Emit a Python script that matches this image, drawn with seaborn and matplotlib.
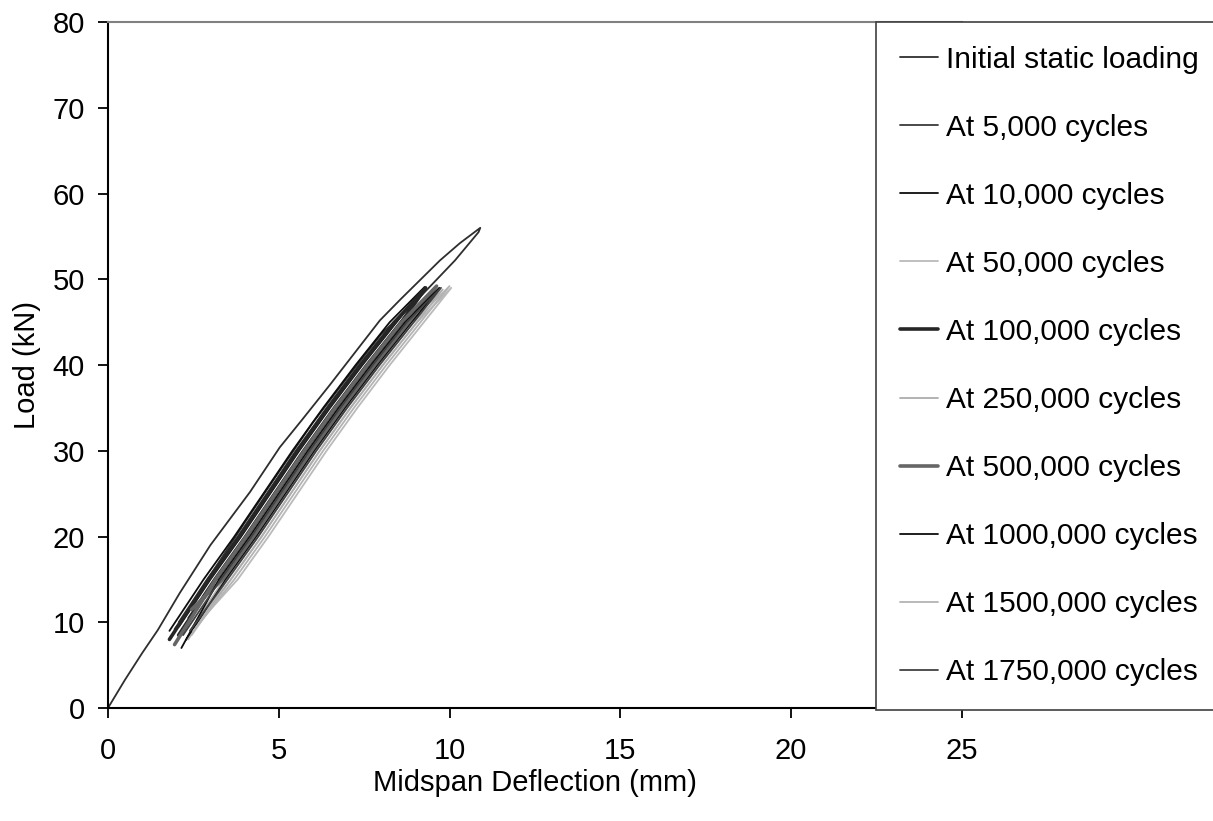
import matplotlib
matplotlib.use("Agg")
import matplotlib.pyplot as plt
import seaborn as sns
import pandas as pd

# ---------------- data ----------------
labels = ["Initial static loading", "At 5,000 cycles", "At 10,000 cycles",
          "At 50,000 cycles", "At 100,000 cycles", "At 250,000 cycles",
          "At 500,000 cycles", "At 1000,000 cycles", "At 1500,000 cycles",
          "At 1750,000 cycles"]

# Initial static loading (loading branch then unloading branch)
init_x = [0.0, 0.5, 1.0, 1.46, 2.1, 3.0, 4.16, 5.03, 5.68, 6.5, 7.96, 8.55, 9.72, 10.3, 10.9,
          10.85, 10.16, 9.2, 8.0, 7.0, 6.0, 5.0, 4.0, 3.0, 2.3, 1.95]
init_y = [0.0, 3.3, 6.4, 9.1, 13.4, 19.0, 25.2, 30.4, 33.6, 37.7, 45.2, 47.6, 52.2, 54.2, 56.0,
          55.5, 52.2, 48.2, 43.6, 38.5, 33.3, 27.5, 21.6, 15.5, 11.2, 9.2]

# Cyclic loops: loading branch up, unloading branch down
c5k_x = [2.07, 2.90, 3.80, 4.65, 5.50, 6.40, 7.35, 8.35, 9.30, 8.55, 7.55, 6.60, 5.70, 4.85, 4.00, 3.10, 2.35]
c5k_y = [10.0, 15, 20, 25, 30, 35, 40, 45, 48.8, 45, 40, 35, 30, 25, 20, 15, 10.5]

c10k_x = [1.80, 2.80, 3.70, 4.55, 5.40, 6.30, 7.25, 8.25, 9.27, 8.45, 7.45, 6.50, 5.60, 4.75, 3.90, 3.00, 2.08]
c10k_y = [9.0, 15, 20, 25, 30, 35, 40, 45, 49.1, 45, 40, 35, 30, 25, 20, 15, 9.5]

c50k_x = [2.45, 3.60, 4.50, 5.35, 6.20, 7.10, 8.05, 9.05, 10.05, 9.25, 8.25, 7.30, 6.40, 5.55, 4.70, 3.80, 2.55]
c50k_y = [8.5, 15, 20, 25, 30, 35, 40, 45, 49.0, 45, 40, 35, 30, 25, 20, 15, 9.5]

c100k_x = [1.80, 2.95, 3.85, 4.70, 5.55, 6.45, 7.40, 8.40, 9.30, 8.60, 7.60, 6.65, 5.75, 4.90, 4.05, 3.15, 2.07]
c100k_y = [8.0, 15, 20, 25, 30, 35, 40, 45, 49.0, 45, 40, 35, 30, 25, 20, 15, 8.5]

c250k_x = [2.40, 3.40, 4.30, 5.15, 6.00, 6.90, 7.85, 8.85, 9.80, 9.05, 8.05, 7.10, 6.20, 5.35, 4.50, 3.60, 2.55]
c250k_y = [9.0, 15, 20, 25, 30, 35, 40, 45, 48.8, 45, 40, 35, 30, 25, 20, 15, 9.5]

c500k_x = [1.95, 3.15, 4.05, 4.90, 5.75, 6.65, 7.60, 8.60, 9.62, 8.80, 7.80, 6.85, 5.95, 5.10, 4.25, 3.35, 2.45]
c500k_y = [7.4, 15, 20, 25, 30, 35, 40, 45, 49.2, 45, 40, 35, 30, 25, 20, 15, 11.5]

c1000k_x = [2.15, 3.25, 4.15, 5.00, 5.85, 6.75, 7.70, 8.70, 9.70, 8.90, 7.90, 6.95, 6.05, 5.20, 4.35, 3.45, 2.30]
c1000k_y = [7.0, 15, 20, 25, 30, 35, 40, 45, 49.0, 45, 40, 35, 30, 25, 20, 15, 8.0]

c1500k_x = [2.35, 3.50, 4.40, 5.25, 6.10, 7.00, 7.95, 8.95, 10.00, 9.15, 8.15, 7.20, 6.30, 5.45, 4.60, 3.70, 2.50]
c1500k_y = [8.0, 15, 20, 25, 30, 35, 40, 45, 49.2, 45, 40, 35, 30, 25, 20, 15, 9.0]

c1750k_x = [2.20, 3.30, 4.20, 5.05, 5.90, 6.80, 7.75, 8.75, 9.75, 8.95, 7.95, 7.00, 6.10, 5.25, 4.40, 3.50, 2.40]
c1750k_y = [8.5, 15, 20, 25, 30, 35, 40, 45, 49.0, 45, 40, 35, 30, 25, 20, 15, 9.0]

x_ticks = [0, 5, 10, 15, 20, 25]
y_ticks = [0, 10, 20, 30, 40, 50, 60, 70, 80]

series_x = [init_x, c5k_x, c10k_x, c50k_x, c100k_x, c250k_x, c500k_x, c1000k_x, c1500k_x, c1750k_x]
series_y = [init_y, c5k_y, c10k_y, c50k_y, c100k_y, c250k_y, c500k_y, c1000k_y, c1500k_y, c1750k_y]

# ---------------- style ----------------
colors = ["#2e2e2e", "#3a3a3a", "#0d0d0d", "#bababa", "#262626", "#adadad",
          "#666666", "#0d0d0d", "#b3b3b3", "#424242"]
widths = [1.3, 1.3, 1.3, 1.3, 2.6, 1.3, 2.6, 1.3, 1.3, 1.3]

sns.set_style("ticks", rc={"text.color": "black", "axes.labelcolor": "black",
                           "xtick.color": "black", "ytick.color": "black"})
plt.rcParams["font.family"] = ["Liberation Sans", "DejaVu Sans"]

fig = plt.figure(figsize=(12.13, 8.21), dpi=100)
ax = fig.add_axes([0.0890, 0.1376, 0.7040, 0.8356])

for lab, xs, ys, c, w in zip(labels, series_x, series_y, colors, widths):
    df = pd.DataFrame({"x": xs, "y": ys})
    sns.lineplot(data=df, x="x", y="y", sort=False, estimator=None, color=c,
                 linewidth=w, label=lab, ax=ax)

ax.set_xlim(0, 25)
ax.set_ylim(0, 80)
ax.set_xticks(x_ticks)
ax.set_yticks(y_ticks)
ax.tick_params(axis="both", labelsize=21, length=7.5, width=1.3, color="black",
               labelcolor="black", direction="out")
ax.tick_params(axis="x", pad=13.5)
ax.tick_params(axis="y", pad=9)
ax.set_xlabel("Midspan Deflection (mm)", fontsize=21, color="black")
ax.set_ylabel("Load (kN)", fontsize=21, color="black")
ax.xaxis.set_label_coords(0.5, -0.0885)
ax.yaxis.set_label_coords(-0.0785, 0.5)

for s in ["left", "bottom"]:
    ax.spines[s].set_color("black")
    ax.spines[s].set_linewidth(1.5)
ax.spines["top"].set_color("#808080")
ax.spines["top"].set_linewidth(1.5)
ax.spines["right"].set_visible(False)

leg = ax.legend(loc="upper left", bbox_to_anchor=(0.7222, 0.1376, 0.285, 0.8356),
                bbox_transform=fig.transFigure, mode="expand", borderaxespad=0,
                fontsize=21.5, frameon=True, fancybox=False, framealpha=1,
                handlelength=1.27, handletextpad=0.27, labelspacing=1.34,
                borderpad=0.8)
leg.get_frame().set_edgecolor("#404040")
leg.get_frame().set_linewidth(1.2)
for t in leg.get_texts():
    t.set_color("black")

fig.savefig("out.png", dpi=100)
